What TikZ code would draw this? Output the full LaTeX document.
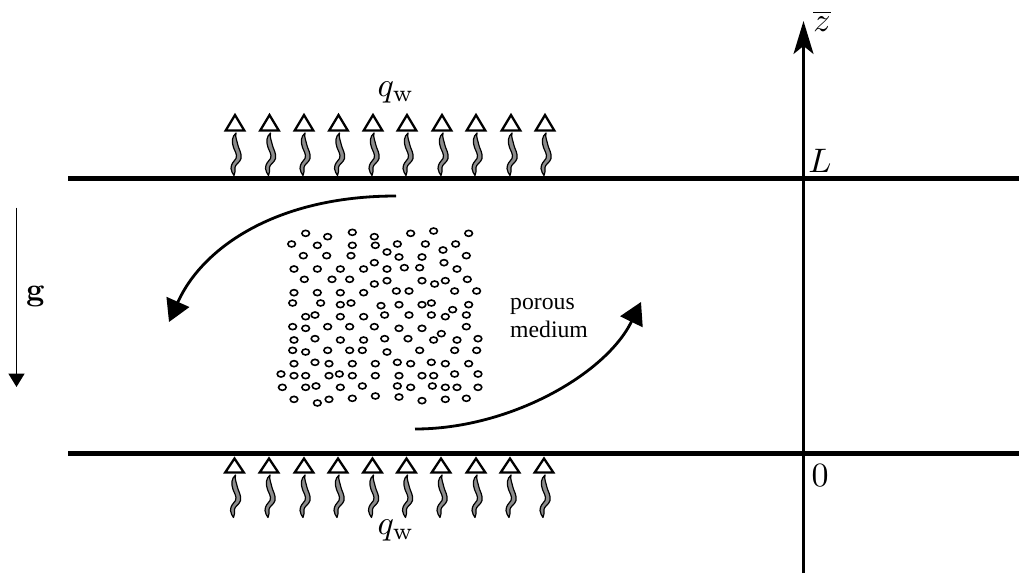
\documentclass[tikz,border=0pt]{standalone}
\usepackage{amsmath}
\usepackage[no-math]{fontspec}
\newfontfamily\timesf{Liberation Serif}
\usetikzlibrary{arrows.meta}
\tikzset{
  wall/.style={line width=5.4pt},
  axisline/.style={line width=2.2pt,-{Stealth[length=33pt,width=20pt,inset=8pt]}},
  flowarrow/.style={line width=2.8pt,-{Triangle[length=22pt,width=24.5pt]}},
  gravity/.style={line width=1.7pt,-{Triangle[length=13.5pt,width=16pt]}},
  bubble/.style={line width=1.6pt,draw=black},
  mathlabel/.style={scale=3.4,inner sep=0pt},
  heat/.pic={
    \draw[line width=2.3pt,line join=miter] (-9.3,0) -- (0,-#1) -- (9.3,0) -- cycle;
    \draw[fill=black!45,line width=1.2pt,line join=round]
      (1,2.5) .. controls (-3,6) and (-3.5,11) .. (-1.5,17)
      .. controls (0,21) and (2.5,24) .. (1,28)
      .. controls (-1,31) and (-4,33) .. (-4,38)
      .. controls (-4,41) and (-2,43) .. (-1,45)
      .. controls (.5,42) and (0,40) .. (0,37)
      .. controls (0,34) and (5,32) .. (6,28)
      .. controls (7,23) and (4,19) .. (3,15)
      .. controls (2,10) and (0,7) .. (1,2.5) -- cycle;
  }
}
\begin{document}
\begin{tikzpicture}[x=1pt,y=-1pt]
\useasboundingbox (0,0) rectangle (1019,573);
% walls
\coordinate (wt1) at (68,178.5); \coordinate (wt2) at (1019,178.5);
\coordinate (wb1) at (68,453.5); \coordinate (wb2) at (1019,453.5);
\draw[wall] (wt1) -- (wt2);
\draw[wall] (wb1) -- (wb2);
% axis
\coordinate (az1) at (803.5,573); \coordinate (az2) at (803.5,21);
\draw[axisline] (az1) -- (az2);
\node[mathlabel] (zbar) at (822,21) {$\overline{z}$};
\node[mathlabel] (lL) at (820,161) {$L$};
\node[mathlabel] (l0) at (820,476) {$0$};
% gravity
\coordinate (g1) at (16.5,207.5); \coordinate (g2) at (16.5,387);
\draw[gravity] (g1) -- (g2);
\node[scale=3.2,inner sep=0pt] (g) at (35.5,296) {$\mathbf{g}$};
% heat
\foreach \x in {235,269.5,304,338.5,373,407,442,476,511,545}
  \pic at (\x,130.5) {heat=15.5};
\foreach \x in {234.5,269,304,338,372.5,406.5,441,476,510,544}
  \pic at (\x,472.5) {heat=14};
\node[mathlabel] (qt) at (396,92) {$q_{\mathrm{w}}$};
\node[mathlabel] (qb) at (396,530) {$q_{\mathrm{w}}$};
% flow arrows
\coordinate (fa1) at (396,196); \coordinate (fa2) at (169,322);
\coordinate (fb1) at (415,429); \coordinate (fb2) at (641,302);
\draw[flowarrow] (fa1) .. controls (276,196) and (202,248) .. (fa2);
\draw[flowarrow] (fb1) .. controls (510,429) and (606,374) .. (fb2);
\node[align=left,anchor=west,inner sep=0pt,font=\timesf\fontsize{23.7}{28}\selectfont] (pm) at (510,318) {porous\\medium};
% pores
\foreach \a/\b in {107/40,173/50,247/37,313/50,65/72,142/76,247/76,316/76,100/107,170/107,243/107,72/147,142/147,211/147,281/147,313/128,103/178,186/178,239/178,313/192,72/218,142/218,211/218,281/218,68/249,152/249,211/254,243/249,107/290,135/285,211/290,281/290}
  \draw[bubble] ({270+\a/3},{220+\b/3}) ellipse [x radius=3.8,y radius=3];
\foreach \a/\b in {122/40,191/33,296/40,82/72,166/72,257/72,51/96,219/90,87/111,156/111,289/107,51/147,103/143,149/143,222/128,261/147,51/182,156/182,194/192,226/182,292/178,79/213,117/213,254/213,320/213,33/257,87/254,156/254,184/249,296/254,44/285,117/285,184/285,226/290,248/269,289/285}
  \draw[bubble] ({370+\a/3},{220+\b/3}) ellipse [x radius=3.8,y radius=3];
\foreach \a/\b in {68/50,107/55,173/50,239/50,313/50,72/90,135/86,211/90,281/90,68/121,107/126,173/121,239/121,277/121,72/161,135/157,177/161,247/161,316/161,33/192,72/197,107/197,177/197,208/192,247/197,316/197,37/232,107/232,138/228,211/232,277/228,72/268,142/279,177/268,247/265,316/258}
  \draw[bubble] ({270+\a/3},{310+\b/3}) ellipse [x radius=3.8,y radius=3];
\foreach \a/\b in {87/55,156/55,289/50,214/71,44/86,114/86,191/90,261/90,324/86,51/126,149/121,254/121,320/121,82/157,122/161,184/157,226/161,296/161,87/197,156/197,191/197,254/192,324/192,82/228,122/232,187/228,226/232,261/232,324/232,87/261,156/272,226/268,289/265}
  \draw[bubble] ({370+\a/3},{310+\b/3}) ellipse [x radius=3.8,y radius=3];
\end{tikzpicture}
\end{document}
